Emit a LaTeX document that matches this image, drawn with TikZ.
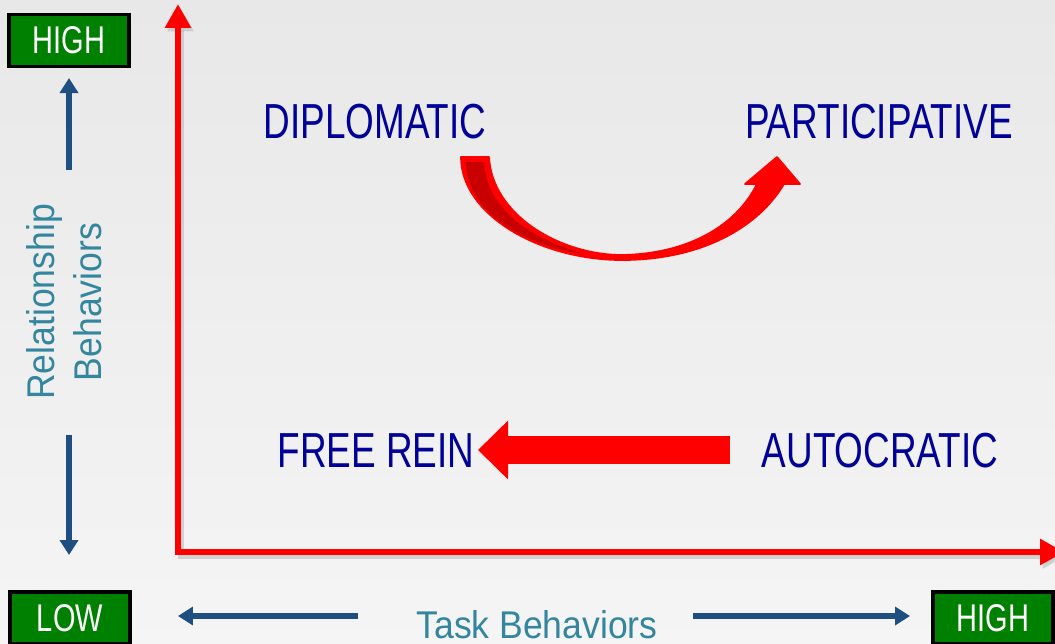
\documentclass[tikz,border=0pt]{standalone}
\usepackage{fontspec}
\setmainfont{Liberation Sans}
\newfontfamily\narrowfont[FakeStretch=0.75]{Liberation Sans}
\newfontfamily\thinfont[FakeStretch=0.92]{Liberation Sans}
\usepackage{tikz}
\usetikzlibrary{arrows.meta,positioning}
\definecolor{stylecol}{RGB}{0,0,153}
\definecolor{labelcol}{RGB}{52,134,158}
\definecolor{navy}{RGB}{31,78,128}
\definecolor{boxgreen}{RGB}{0,128,0}
\definecolor{axisred}{RGB}{255,0,0}
\definecolor{darkribbon}{RGB}{200,0,0}

\begin{document}
\begin{tikzpicture}[x=0.02cm,y=-0.02cm,
      mgmt/.style={anchor=base,inner sep=0pt,text=stylecol,font=\narrowfont\fontsize{28}{34}\selectfont},
      level/.style={draw=black,line width=2pt,fill=boxgreen,text=white,minimum width=2.4cm,minimum height=1.04cm,inner sep=0pt,font=\narrowfont\fontsize{22}{26}\selectfont},
      axislabel/.style={text=labelcol,font=\thinfont\fontsize{22}{27}\selectfont,inner sep=0pt},
      axis/.style={axisred,line width=0.12cm,{Triangle[width=0.5cm,length=0.48cm]}-{Triangle[width=0.5cm,length=0.48cm]}},
      hint/.style={navy,line width=0.12cm,-{Triangle[width=0.36cm,length=0.3cm]}}]
      \shade[top color=black!9,bottom color=black!4] (0,0) rectangle (1055,643);
      \useasboundingbox (0,0) rectangle (1055,643);
      % axes
      \coordinate (ytop) at (178,4);
      \coordinate (xend) at (1064,552);
      \draw[axis,black!30,opacity=0.5] ([xshift=0.05cm,yshift=-0.07cm]ytop) |- ([xshift=0.05cm,yshift=-0.07cm]xend);
      \draw[axis] (ytop) |- (xend);
      % level boxes
      \node[level] (hightop) at (69,40.5) {HIGH};
      \node[level] (low) at (70,618) {LOW};
      \node[level] (highright) at (993,618) {HIGH};
      % axis names
      \node[axislabel,rotate=90,align=center] (rel) at (64,302) {Relationship\\Behaviors};
      \node[axislabel,anchor=base] (task) at (537,638) {Task Behaviors};
      \coordinate (upfrom) at (69,170);   \coordinate (upto) at (69,78);
      \coordinate (downfrom) at (69,435); \coordinate (downto) at (69,555);
      \coordinate (leftfrom) at (358,616); \coordinate (leftto) at (178,616);
      \coordinate (rightfrom) at (693,616); \coordinate (rightto) at (910,616);
      \draw[hint] (upfrom) -- (upto);
      \draw[hint] (downfrom) -- (downto);
      \draw[hint] (leftfrom) -- (leftto);
      \draw[hint] (rightfrom) -- (rightto);
      % styles
      \node[mgmt] (dipl) at (375,138) {DIPLOMATIC};
      \node[mgmt] (part) at (879,138) {PARTICIPATIVE};
      \node[mgmt] (free) at (376,467) {FREE REIN};
      \node[mgmt] (auto) at (880,467) {AUTOCRATIC};
      % moves
      \draw[axisred,line width=0.56cm,-{Triangle[width=1.14cm,length=0.6cm]}] (730,450) -- (478,450);
      \fill[axisred,draw=axisred,line width=1pt,line join=round]
        (461,157) .. controls (461,215) and (540,260) .. (622,260)
        .. controls (695,260) and (755,232) .. (784,184) -- (800,184) -- (777,157) -- (745,184) -- (757,184)
        .. controls (735,228) and (685,254) .. (622,255)
        .. controls (560,255) and (492,215) .. (489,157) -- cycle;
      \fill[darkribbon] (466,162) .. controls (466,210) and (520,245) .. (585,254)
        .. controls (525,238) and (486,205) .. (484,162) -- cycle;
\end{tikzpicture}
\end{document}
